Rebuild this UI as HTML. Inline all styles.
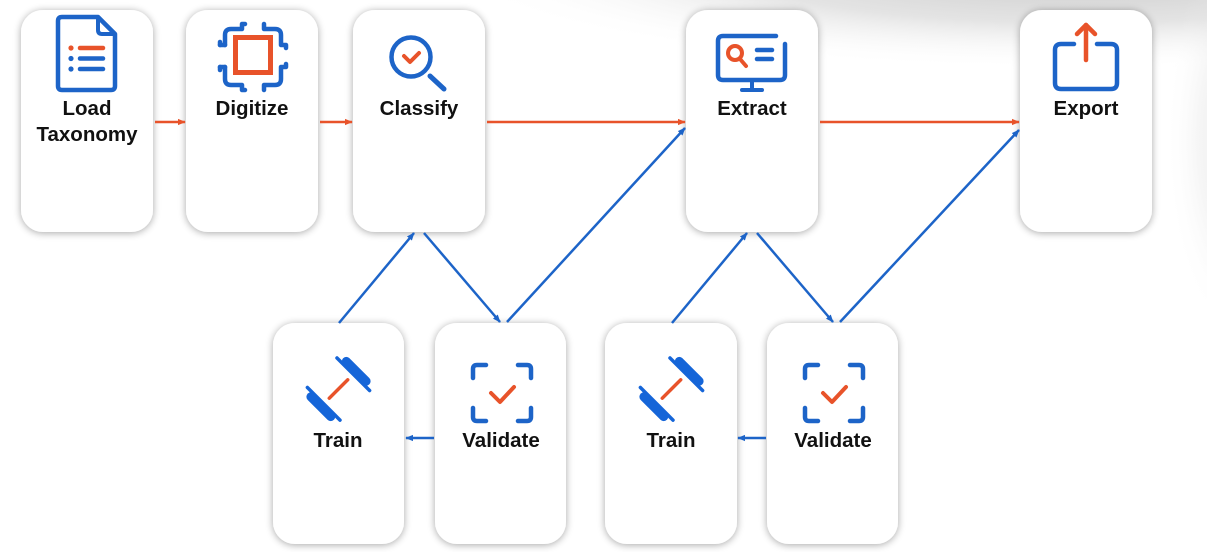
<!DOCTYPE html>
<html><head><meta charset="utf-8"><style>
html,body{margin:0;padding:0;background:#fff;}
body{width:1207px;height:552px;overflow:hidden;}
svg{display:block;}
text{font-family:"Liberation Sans",Arial,sans-serif;font-weight:bold;font-size:20.5px;fill:#111;text-anchor:middle;}
</style></head><body>
<svg width="1207" height="552" viewBox="0 0 1207 552" xmlns="http://www.w3.org/2000/svg">
<defs>
<radialGradient id="topg" cx="0.5" cy="0.5" r="0.5">
<stop offset="0" stop-color="#c4c4c4" stop-opacity="1"/>
<stop offset="0.55" stop-color="#d8d8d8" stop-opacity="0.7"/>
<stop offset="1" stop-color="#ffffff" stop-opacity="0"/>
</radialGradient>
<filter id="sh" x="-20%" y="-20%" width="140%" height="140%">
<feGaussianBlur in="SourceAlpha" stdDeviation="4"/>
<feOffset dx="0" dy="1" result="b"/>
<feComponentTransfer><feFuncA type="linear" slope="0.35"/></feComponentTransfer>
<feMerge><feMergeNode/><feMergeNode in="SourceGraphic"/></feMerge>
</filter>
<marker id="ab" viewBox="0 0 10 10" refX="9" refY="5" markerWidth="8" markerHeight="8" markerUnits="userSpaceOnUse" orient="auto"><path d="M0,1 L10,5 L0,9 z" fill="#1d64c8"/></marker>
<marker id="ar" viewBox="0 0 10 10" refX="9" refY="5" markerWidth="8" markerHeight="8" markerUnits="userSpaceOnUse" orient="auto"><path d="M0,1 L10,5 L0,9 z" fill="#e8532a"/></marker>
</defs>

<!-- background shading top-right -->
<ellipse cx="1080" cy="-35" rx="640" ry="105" fill="url(#topg)"/>
<ellipse cx="1240" cy="140" rx="75" ry="200" fill="url(#topg)" opacity="0.35"/>

<!-- boxes -->
<g fill="#fff" filter="url(#sh)">
<rect x="21" y="10" width="132" height="222" rx="22"/>
<rect x="186" y="10" width="132" height="222" rx="22"/>
<rect x="353" y="10" width="132" height="222" rx="22"/>
<rect x="686" y="10" width="132" height="222" rx="22"/>
<rect x="1020" y="10" width="132" height="222" rx="22"/>
<rect x="273" y="323" width="131" height="221" rx="22"/>
<rect x="435" y="323" width="131" height="221" rx="22"/>
<rect x="605" y="323" width="132" height="221" rx="22"/>
<rect x="767" y="323" width="131" height="221" rx="22"/>
</g>

<!-- red arrows -->
<g stroke="#e8532a" stroke-width="2.5" fill="none" marker-end="url(#ar)">
<line x1="155" y1="122" x2="185" y2="122"/>
<line x1="320" y1="122" x2="352" y2="122"/>
<line x1="487" y1="122" x2="685" y2="122"/>
<line x1="820" y1="122" x2="1019" y2="122"/>
</g>

<!-- blue arrows -->
<g stroke="#1d64c8" stroke-width="2.5" fill="none" marker-end="url(#ab)">
<line x1="339" y1="323" x2="414" y2="233"/>
<line x1="424" y1="233" x2="500" y2="322"/>
<line x1="507" y1="322" x2="685" y2="128"/>
<line x1="672" y1="323" x2="747" y2="233"/>
<line x1="757" y1="233" x2="833" y2="322"/>
<line x1="840" y1="322" x2="1019" y2="130"/>
<line x1="434" y1="438" x2="406" y2="438"/>
<line x1="766" y1="438" x2="738" y2="438"/>
</g>

<!-- Load Taxonomy icon -->
<g fill="none" stroke-linecap="round" stroke-linejoin="round">
<path d="M62 17 H98 L115 34 V86 Q115 90 111 90 H62 Q58 90 58 86 V21 Q58 17 62 17 Z" stroke="#1d64c8" stroke-width="4.5"/>
<path d="M98 18 V30 Q98 34 102 34 H114" stroke="#1d64c8" stroke-width="4"/>
<line x1="80" y1="48" x2="103" y2="48" stroke="#e8532a" stroke-width="4.5"/>
<line x1="80" y1="58.5" x2="103" y2="58.5" stroke="#1d64c8" stroke-width="4.5"/>
<line x1="80" y1="69" x2="103" y2="69" stroke="#1d64c8" stroke-width="4.5"/>
</g>
<circle cx="71" cy="48" r="2.6" fill="#e8532a"/>
<circle cx="71" cy="58.5" r="2.6" fill="#1d64c8"/>
<circle cx="71" cy="69" r="2.6" fill="#1d64c8"/>

<!-- Digitize chip icon -->
<g fill="none" stroke="#1d64c8" stroke-width="4.5" stroke-linecap="round" stroke-linejoin="round">
<path d="M225 45 V35 Q225 29 231 29 H242 V24 H245"/>
<path d="M264 24 V29 H275 Q281 29 281 35 V45 H286 V48"/>
<path d="M220 45 H225"/>
<path d="M225 67 V79 Q225 85 231 85 H242 V90 H245"/>
<path d="M264 90 V85 H275 Q281 85 281 79 V67 H286 V64"/>
<path d="M220 67 H225"/>
<path d="M220 45 V42"/>
<path d="M220 67 V70"/>
</g>
<rect x="235.5" y="37.5" width="35" height="35" fill="none" stroke="#e8532a" stroke-width="5"/>

<!-- Classify icon -->
<circle cx="411" cy="57" r="19.5" fill="none" stroke="#1d64c8" stroke-width="4.5"/>
<line x1="430" y1="76" x2="444" y2="89" stroke="#1d64c8" stroke-width="5" stroke-linecap="round"/>
<path d="M404 56 L410 62 L419 53" fill="none" stroke="#e8532a" stroke-width="4" stroke-linecap="round" stroke-linejoin="round"/>

<!-- Extract icon -->
<g fill="none" stroke-linecap="round" stroke-linejoin="round">
<path d="M776 36 H723 Q718 36 718 41 V75 Q718 80 723 80 H780 Q785 80 785 75 V44" stroke="#1d64c8" stroke-width="4.5"/>
<line x1="752" y1="81" x2="752" y2="89" stroke="#1d64c8" stroke-width="4"/>
<line x1="742" y1="90" x2="762" y2="90" stroke="#1d64c8" stroke-width="4"/>
<circle cx="735" cy="53" r="7" stroke="#e8532a" stroke-width="4"/>
<line x1="740" y1="59" x2="746" y2="66" stroke="#e8532a" stroke-width="4"/>
<line x1="757" y1="50" x2="772" y2="50" stroke="#1d64c8" stroke-width="4.5"/>
<line x1="757" y1="59" x2="772" y2="59" stroke="#1d64c8" stroke-width="4.5"/>
</g>

<!-- Export icon -->
<g fill="none" stroke-linecap="round" stroke-linejoin="round">
<path d="M1074 44 H1061 Q1055 44 1055 50 V83 Q1055 89 1061 89 H1111 Q1117 89 1117 83 V50 Q1117 44 1111 44 H1097" stroke="#1d64c8" stroke-width="4.5"/>
<line x1="1086" y1="60" x2="1086" y2="25" stroke="#e8532a" stroke-width="4.5"/>
<path d="M1077 34 L1086 25 L1095 34" stroke="#e8532a" stroke-width="4.5"/>
</g>

<!-- Train icons -->
<g stroke-linecap="round">
<line x1="329.3" y1="398.2" x2="347.7" y2="379.8" stroke="#e8532a" stroke-width="3.5"/>
<line x1="337" y1="358" x2="369.6" y2="390.5" stroke="#1565d8" stroke-width="3.5"/>
<line x1="346.3" y1="361.4" x2="366.1" y2="381.2" stroke="#1565d8" stroke-width="9"/>
<line x1="307.4" y1="387.5" x2="340" y2="420.1" stroke="#1565d8" stroke-width="3.5"/>
<line x1="310.9" y1="396.8" x2="330.7" y2="416.6" stroke="#1565d8" stroke-width="9"/>
</g>
<g transform="translate(333,0)" stroke-linecap="round">
<line x1="329.3" y1="398.2" x2="347.7" y2="379.8" stroke="#e8532a" stroke-width="3.5"/>
<line x1="337" y1="358" x2="369.6" y2="390.5" stroke="#1565d8" stroke-width="3.5"/>
<line x1="346.3" y1="361.4" x2="366.1" y2="381.2" stroke="#1565d8" stroke-width="9"/>
<line x1="307.4" y1="387.5" x2="340" y2="420.1" stroke="#1565d8" stroke-width="3.5"/>
<line x1="310.9" y1="396.8" x2="330.7" y2="416.6" stroke="#1565d8" stroke-width="9"/>
</g>

<!-- Validate icons -->
<g fill="none" stroke-linecap="round" stroke-linejoin="round">
<g stroke="#1d64c8" stroke-width="4.5">
<path d="M473 378 V369 Q473 365 477 365 H486"/>
<path d="M518 365 H527 Q531 365 531 369 V378"/>
<path d="M473 408 V417 Q473 421 477 421 H486"/>
<path d="M518 421 H527 Q531 421 531 417 V408"/>
</g>
<path d="M491 393 L500 402 L514 387" stroke="#e8532a" stroke-width="4"/>
</g>
<g fill="none" stroke-linecap="round" stroke-linejoin="round" transform="translate(332,0)">
<g stroke="#1d64c8" stroke-width="4.5">
<path d="M473 378 V369 Q473 365 477 365 H486"/>
<path d="M518 365 H527 Q531 365 531 369 V378"/>
<path d="M473 408 V417 Q473 421 477 421 H486"/>
<path d="M518 421 H527 Q531 421 531 417 V408"/>
</g>
<path d="M491 393 L500 402 L514 387" stroke="#e8532a" stroke-width="4"/>
</g>

<!-- labels -->
<text x="87" y="115">Load</text>
<text x="87" y="141">Taxonomy</text>
<text x="252" y="115">Digitize</text>
<text x="419" y="115">Classify</text>
<text x="752" y="115">Extract</text>
<text x="1086" y="115">Export</text>
<text x="338" y="447">Train</text>
<text x="501" y="447">Validate</text>
<text x="671" y="447">Train</text>
<text x="833" y="447">Validate</text>
</svg>
</body></html>
